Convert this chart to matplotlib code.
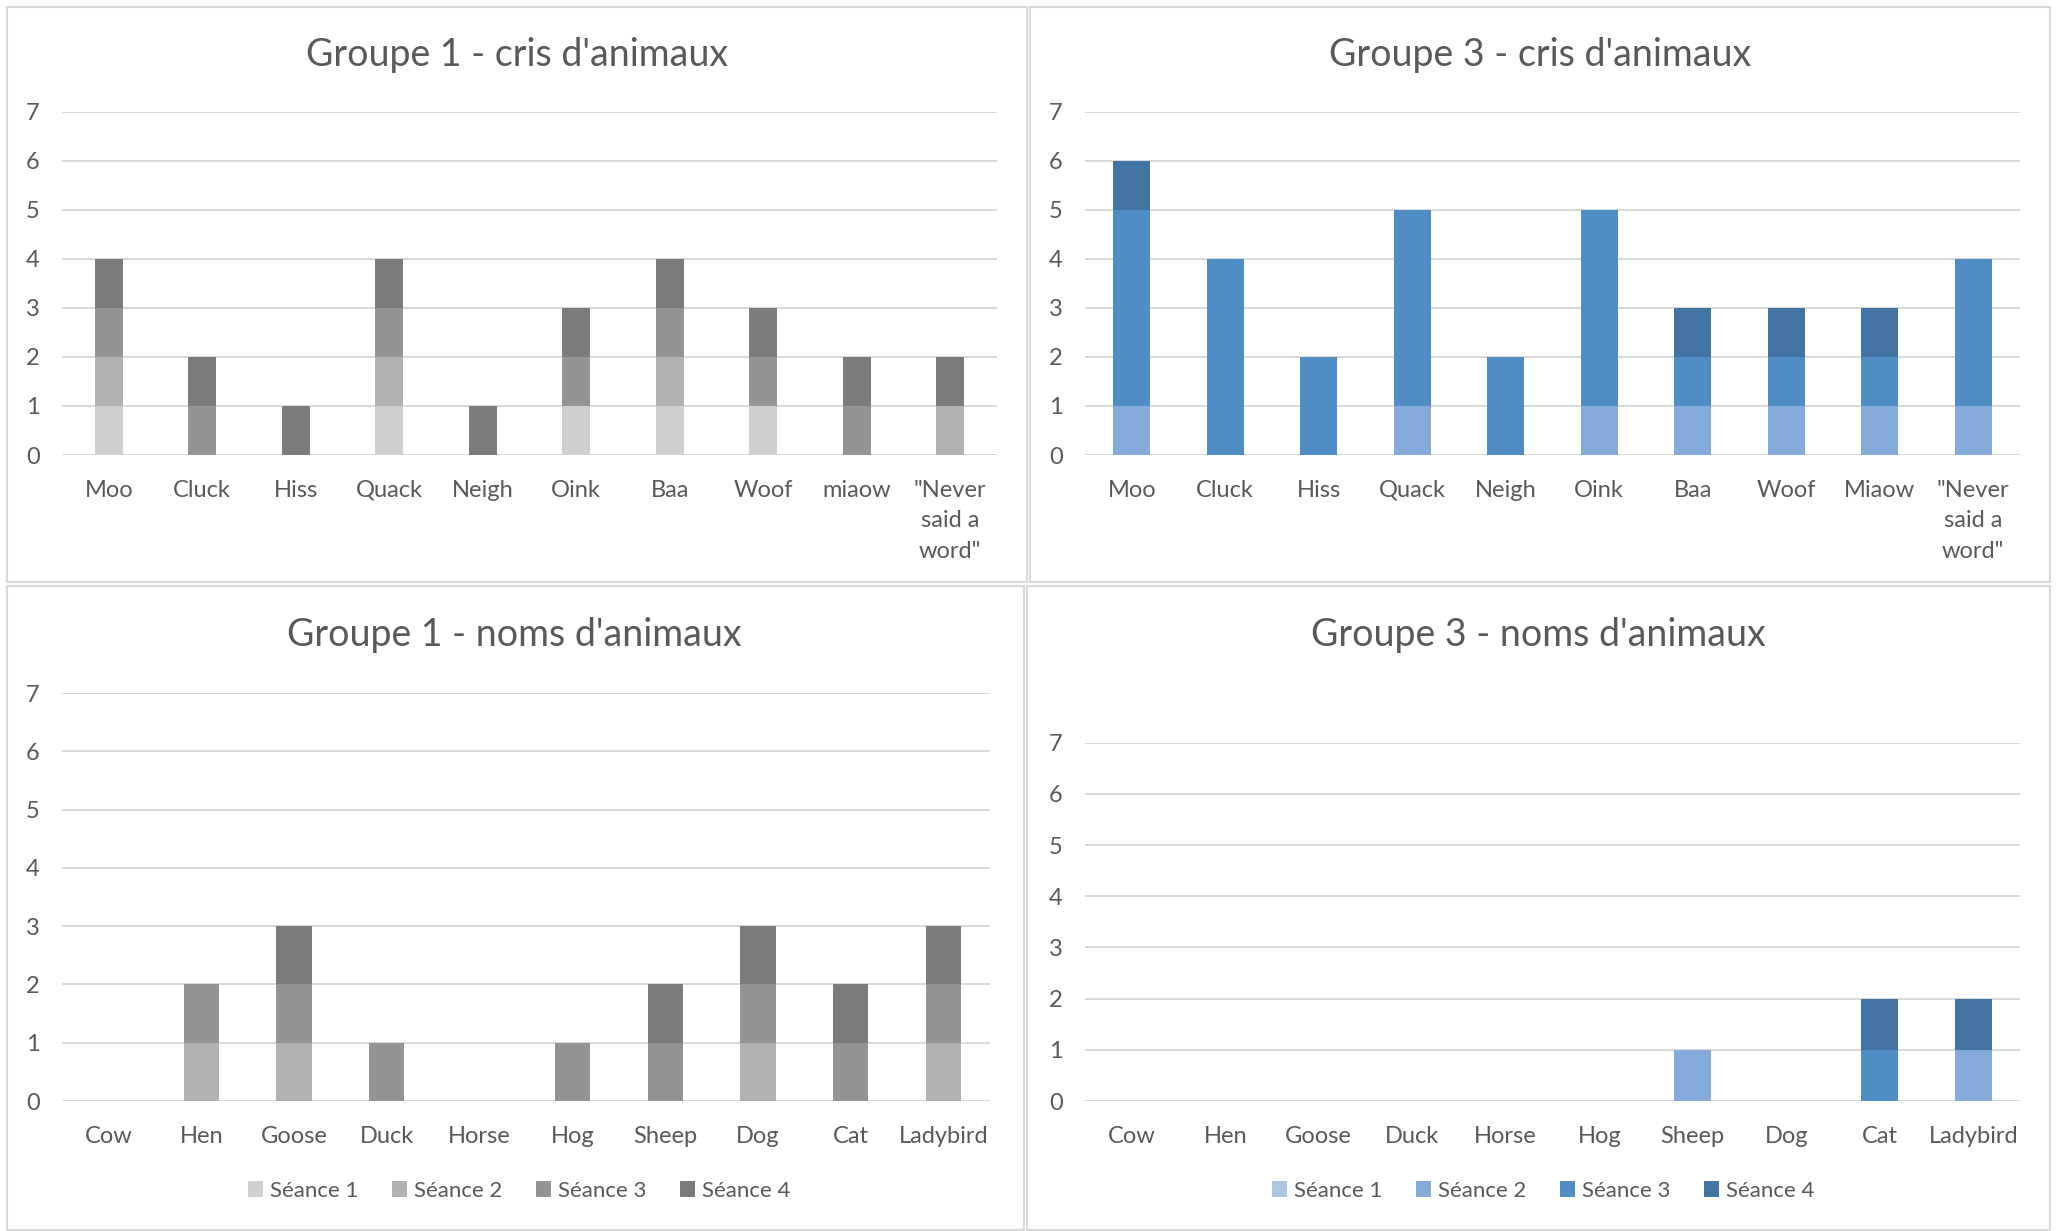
import matplotlib
matplotlib.use("Agg")
import matplotlib.pyplot as plt
from matplotlib.patches import Rectangle
import numpy as np

plt.rcParams['font.family'] = ['Lato', 'DejaVu Sans']

sessions = ['Séance 1', 'Séance 2', 'Séance 3', 'Séance 4']
gray_colors = ['#cfcfcf', '#b2b2b2', '#949494', '#7b7b7b']
blue_colors = ['#aec6e6', '#84abd9', '#508dc5', '#4373a3']

cris_g1 = ['Moo', 'Cluck', 'Hiss', 'Quack', 'Neigh', 'Oink', 'Baa', 'Woof', 'miaow', '"Never\nsaid a\nword"']
cris_g3 = ['Moo', 'Cluck', 'Hiss', 'Quack', 'Neigh', 'Oink', 'Baa', 'Woof', 'Miaow', '"Never\nsaid a\nword"']
noms = ['Cow', 'Hen', 'Goose', 'Duck', 'Horse', 'Hog', 'Sheep', 'Dog', 'Cat', 'Ladybird']

g1_cris_s1 = [1, 0, 0, 1, 0, 1, 1, 1, 0, 0]
g1_cris_s2 = [1, 0, 0, 1, 0, 0, 1, 0, 0, 1]
g1_cris_s3 = [1, 1, 0, 1, 0, 1, 1, 1, 1, 0]
g1_cris_s4 = [1, 1, 1, 1, 1, 1, 1, 1, 1, 1]

g3_cris_s1 = [0, 0, 0, 0, 0, 0, 0, 0, 0, 0]
g3_cris_s2 = [1, 0, 0, 1, 0, 1, 1, 1, 1, 1]
g3_cris_s3 = [4, 4, 2, 4, 2, 4, 1, 1, 1, 3]
g3_cris_s4 = [1, 0, 0, 0, 0, 0, 1, 1, 1, 0]

g1_noms_s1 = [0, 0, 0, 0, 0, 0, 0, 0, 0, 0]
g1_noms_s2 = [0, 1, 1, 0, 0, 0, 0, 1, 0, 1]
g1_noms_s3 = [0, 1, 1, 1, 0, 1, 1, 1, 1, 1]
g1_noms_s4 = [0, 0, 1, 0, 0, 0, 1, 1, 1, 1]

g3_noms_s1 = [0, 0, 0, 0, 0, 0, 0, 0, 0, 0]
g3_noms_s2 = [0, 0, 0, 0, 0, 0, 1, 0, 0, 1]
g3_noms_s3 = [0, 0, 0, 0, 0, 0, 0, 0, 1, 0]
g3_noms_s4 = [0, 0, 0, 0, 0, 0, 0, 0, 1, 1]

W, H = 2057, 1231
fig = plt.figure(figsize=(W / 100, H / 100), dpi=100)

TXT = '#595959'
GRID = '#d9d9d9'


def fx(px):
    return px / W


def fy(py):
    return 1 - py / H


def panel_box(x0, y0, x1, y1):
    fig.add_artist(Rectangle((fx(x0), fy(y1)), fx(x1 - x0), (y1 - y0) / H,
                             transform=fig.transFigure, facecolor='none',
                             edgecolor=GRID, linewidth=1.5))


def draw(ax_px, title, title_xy, cats, series, colors, width, legend_xy=None):
    x0, ytop, x1, ybot = ax_px
    ax = fig.add_axes([fx(x0), fy(ybot), fx(x1 - x0), (ybot - ytop) / H])
    x = np.arange(len(cats))
    bottom = np.zeros(len(cats))
    for vals, c, lab in zip(series, colors, sessions):
        v = np.array(vals, dtype=float)
        ax.bar(x, v, width=width, bottom=bottom, color=c, label=lab, zorder=3)
        bottom += v
    ax.set_ylim(0, 7)
    ax.set_xlim(-0.5, len(cats) - 0.5)
    ax.set_yticks(range(8))
    ax.yaxis.grid(True, color=GRID, linewidth=1.4, zorder=0)
    ax.set_axisbelow(True)
    for s in ax.spines.values():
        s.set_visible(False)
    ax.tick_params(axis='both', length=0, labelsize=17, colors=TXT)
    ax.tick_params(axis='y', pad=16)
    ax.tick_params(axis='x', pad=18)
    ax.set_xticks(x)
    ax.set_xticklabels(cats, linespacing=1.55)
    for t in ax.get_xticklabels():
        t.set_verticalalignment('top')
    fig.text(fx(title_xy[0]), fy(title_xy[1]), title, ha='center', va='center',
             fontsize=27, color=TXT)
    if legend_xy is not None:
        handles, labels = ax.get_legend_handles_labels()
        fig.legend(handles, labels, loc='center',
                   bbox_to_anchor=(fx(legend_xy[0]), fy(legend_xy[1])),
                   ncol=4, frameon=False, fontsize=16, labelcolor=TXT,
                   handlelength=0.7, handleheight=0.7, handletextpad=0.3,
                   columnspacing=1.5)
    return ax


panel_box(7, 7, 1027, 582)
panel_box(1030, 7, 2050, 582)
panel_box(7, 586, 1024, 1230)
panel_box(1027, 586, 2050, 1230)

draw((62, 111.5, 997, 455), "Groupe 1 - cris d'animaux", (517, 55),
     cris_g1, [g1_cris_s1, g1_cris_s2, g1_cris_s3, g1_cris_s4], gray_colors, 0.30)
draw((1085, 111.5, 2020, 455), "Groupe 3 - cris d'animaux", (1540, 55),
     cris_g3, [g3_cris_s1, g3_cris_s2, g3_cris_s3, g3_cris_s4], blue_colors, 0.40)
draw((62, 693, 990, 1101), "Groupe 1 - noms d'animaux", (514, 635),
     noms, [g1_noms_s1, g1_noms_s2, g1_noms_s3, g1_noms_s4], gray_colors, 0.38,
     legend_xy=(519, 1191))
draw((1085, 742.6, 2020, 1101), "Groupe 3 - noms d'animaux", (1538, 635),
     noms, [g3_noms_s1, g3_noms_s2, g3_noms_s3, g3_noms_s4], blue_colors, 0.40,
     legend_xy=(1543, 1191))

fig.savefig('out.png', dpi=100, facecolor='white')
